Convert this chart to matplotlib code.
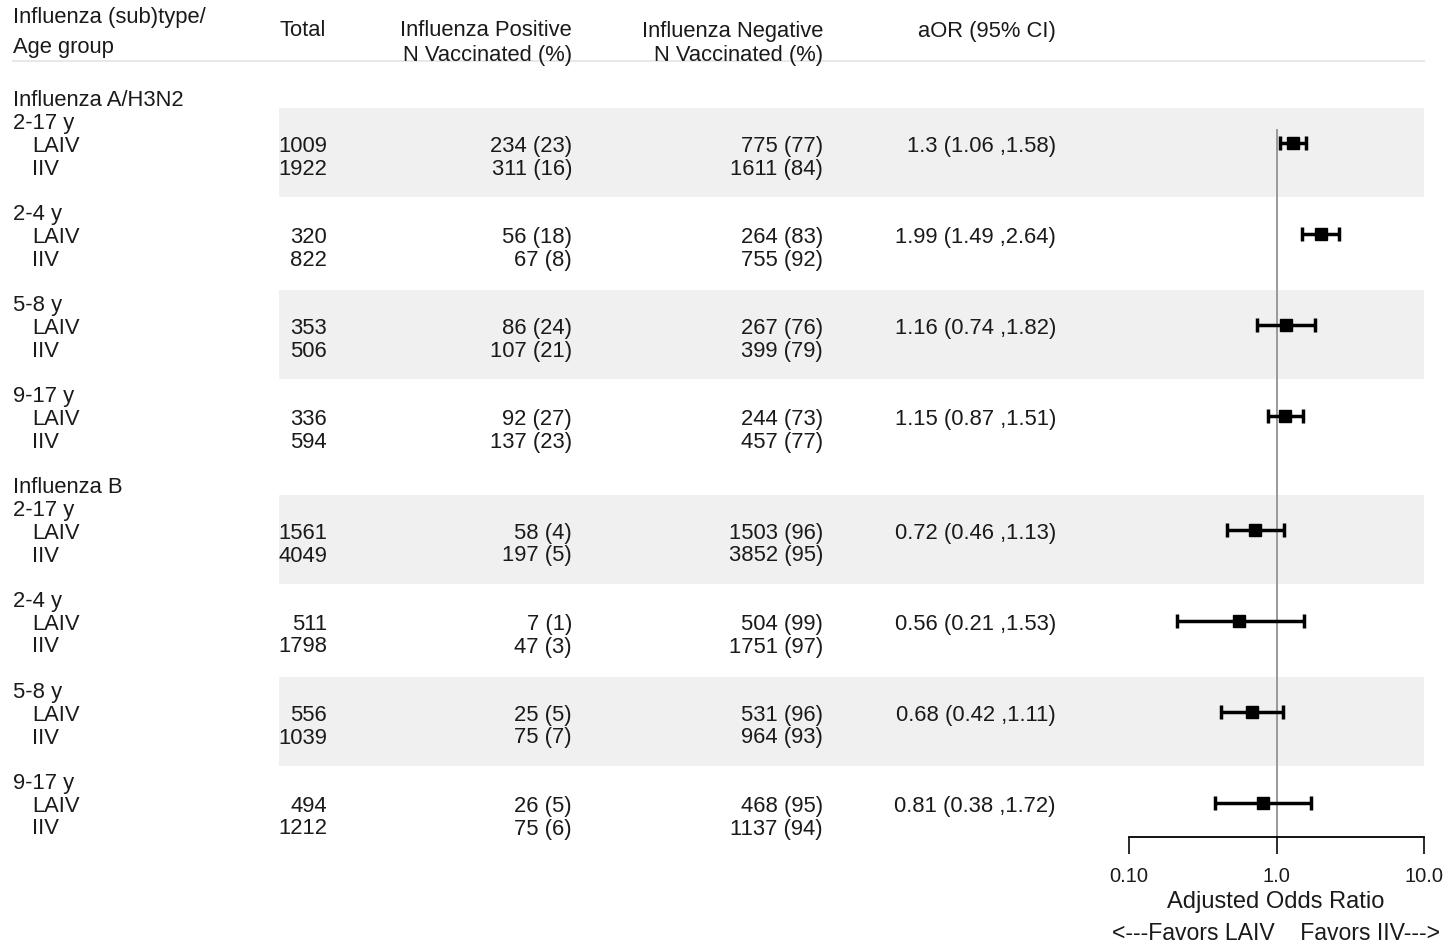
import matplotlib.pyplot as plt
from matplotlib.ticker import FixedLocator, FixedFormatter

plt.rcParams['font.family'] = ['Liberation Sans', 'DejaVu Sans']

subtypes = ['Influenza A/H3N2', 'Influenza B']
ages = ['2-17 y', '2-4 y', '5-8 y', '9-17 y']
vaccines = ['LAIV', 'IIV']

# one entry per subtype x age group (A/H3N2 first, then B)
total_laiv = [1009, 320, 353, 336, 1561, 511, 556, 494]
total_iiv = [1922, 822, 506, 594, 4049, 1798, 1039, 1212]
pos_laiv_n = [234, 56, 86, 92, 58, 7, 25, 26]
pos_laiv_pct = [23, 18, 24, 27, 4, 1, 5, 5]
pos_iiv_n = [311, 67, 107, 137, 197, 47, 75, 75]
pos_iiv_pct = [16, 8, 21, 23, 5, 3, 7, 6]
neg_laiv_n = [775, 264, 267, 244, 1503, 504, 531, 468]
neg_laiv_pct = [77, 83, 76, 73, 96, 99, 96, 95]
neg_iiv_n = [1611, 755, 399, 457, 3852, 1751, 964, 1137]
neg_iiv_pct = [84, 92, 79, 77, 95, 97, 93, 94]
aor = [1.3, 1.99, 1.16, 1.15, 0.72, 0.56, 0.68, 0.81]
ci_lo = [1.06, 1.49, 0.74, 0.87, 0.46, 0.21, 0.42, 0.38]
ci_hi = [1.58, 2.64, 1.82, 1.51, 1.13, 1.53, 1.11, 1.72]

W, H = 1456, 945
fig = plt.figure(figsize=(W / 100, H / 100), dpi=100)
ax = fig.add_axes([0, 0, 1, 1])
ax.set_xlim(0, W)
ax.set_ylim(H, 0)
ax.axis('off')

txt = dict(fontsize=15.8, color='#1a1a1a', va='center')
band_col = '#f0f0f0'

# table header
ax.text(13, 17, 'Influenza (sub)type/', ha='left', **txt)
ax.text(13, 48, 'Age group', ha='left', **txt)
ax.text(280, 31, 'Total', ha='left', **txt)
ax.text(572, 31, 'Influenza Positive', ha='right', **txt)
ax.text(572, 55, 'N Vaccinated (%)', ha='right', **txt)
ax.text(823, 31, 'Influenza Negative', ha='right', **txt)
ax.text(823, 55, 'N Vaccinated (%)', ha='right', **txt)
ax.text(1056, 31, 'aOR (95% CI)', ha='right', **txt)
ax.plot([13, 1424], [62, 62], color='#e8e8e8', lw=1.5)

# row layout: one text line = 22.75 px, first line at y=101
y0, lh = 101, 22.75
line = 0
point_y = []
for s, sub in enumerate(subtypes):
    ax.text(13, y0 + lh * line, sub, ha='left', **txt)
    line += 1
    for a, age in enumerate(ages):
        i = s * len(ages) + a
        if a % 2 == 0:
            ax.axhspan(y0 - 1 + lh * (line - 0.6), y0 - 1 + lh * (line + 3.3),
                       xmin=279 / W, xmax=1424 / W, color=band_col, lw=0, zorder=0)
        ax.text(13, y0 + lh * line, age, ha='left', **txt)
        yl = y0 + lh * (line + 1)
        yi = y0 + lh * (line + 2)
        ax.text(32, yl, vaccines[0], ha='left', **txt)
        ax.text(32, yi, vaccines[1], ha='left', **txt)
        ax.text(327, yl, str(total_laiv[i]), ha='right', **txt)
        ax.text(327, yi, str(total_iiv[i]), ha='right', **txt)
        ax.text(572, yl, f'{pos_laiv_n[i]} ({pos_laiv_pct[i]})', ha='right', **txt)
        ax.text(572, yi, f'{pos_iiv_n[i]} ({pos_iiv_pct[i]})', ha='right', **txt)
        ax.text(823, yl, f'{neg_laiv_n[i]} ({neg_laiv_pct[i]})', ha='right', **txt)
        ax.text(823, yi, f'{neg_iiv_n[i]} ({neg_iiv_pct[i]})', ha='right', **txt)
        ax.text(1056, yl, f'{aor[i]:g} ({ci_lo[i]:.2f} ,{ci_hi[i]:.2f})', ha='right', **txt)
        point_y.append(yl - 2.5)
        line += 4

# forest plot on a log scale
fx0, fx1 = 1129, 1424
fax = fig.add_axes([fx0 / W, 0, (fx1 - fx0) / W, 1])
fax.set_xscale('log')
fax.set_xlim(0.1, 10)
fax.set_ylim(H, 0)
fax.patch.set_visible(False)
for sp in ['top', 'left', 'right']:
    fax.spines[sp].set_visible(False)
axis_y = 838
fax.spines['bottom'].set_position(('data', axis_y))
fax.spines['bottom'].set_linewidth(1.3)
fax.xaxis.set_major_locator(FixedLocator([0.1, 1, 10]))
fax.xaxis.set_major_formatter(FixedFormatter(['0.10', '1.0', '10.0']))
fax.xaxis.set_minor_locator(FixedLocator([]))
fax.tick_params(axis='x', direction='out', length=12, width=1.3, pad=9,
                labelsize=14.5, colors='#1a1a1a')
fax.set_yticks([])

fax.plot([1, 1], [131, axis_y], color='#999999', lw=1.4, zorder=1)
err = [[a - l for a, l in zip(aor, ci_lo)], [h - a for a, h in zip(aor, ci_hi)]]
fax.errorbar(aor, point_y, xerr=err, fmt='s', color='black', ms=8,
             elinewidth=2.5, capsize=5, capthick=2.5, zorder=3)

ax.text(1276, 902, 'Adjusted Odds Ratio', ha='center', fontsize=17, color='#1a1a1a', va='center')
ax.text(1276, 934, '<---Favors LAIV    Favors IIV--->', ha='center', fontsize=16.6,
        color='#1a1a1a', va='center')

fig.savefig('out.png', dpi=100)
